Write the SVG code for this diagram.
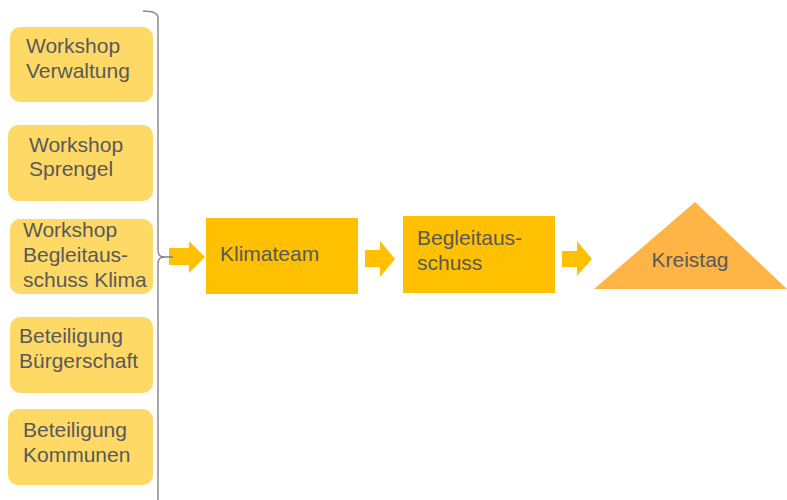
<svg xmlns="http://www.w3.org/2000/svg" width="787" height="500" viewBox="0 0 787 500">
<style>
.src rect{fill:#FFD966;}
text{font-family:"Liberation Sans",Arial,sans-serif;font-size:21px;fill:#595959;}
.arr{fill:#FFC000;}
</style>
<rect width="787" height="500" fill="#fff"/>
<g id="n1" class="src"><rect x="10" y="27" width="143" height="75" rx="10"/><text x="26" y="53">Workshop</text><text x="26" y="78">Verwaltung</text></g>
<g id="n2" class="src"><rect x="8" y="125" width="145" height="76" rx="10"/><text x="29" y="152">Workshop</text><text x="29" y="176">Sprengel</text></g>
<g id="n3" class="src"><rect x="10" y="219" width="143" height="75" rx="10"/><text x="23" y="237">Workshop</text><text x="23" y="262">Begleitaus-</text><text x="23" y="287">schuss Klima</text></g>
<g id="n4" class="src"><rect x="10" y="317" width="143" height="76" rx="10"/><text x="19" y="343">Beteiligung</text><text x="19" y="368">Bürgerschaft</text></g>
<g id="n5" class="src"><rect x="8" y="409" width="145" height="76" rx="10"/><text x="23" y="437">Beteiligung</text><text x="23" y="462">Kommunen</text></g>
<g id="klimateam"><rect x="206" y="218" width="152" height="76" fill="#FFC000"/><text x="220" y="261">Klimateam</text></g>
<g id="begleitausschuss"><rect x="403" y="216" width="152" height="77" fill="#FFC000"/><text x="417" y="245">Begleitaus-</text><text x="417" y="270">schuss</text></g>
<g id="kreistag"><polygon points="594,289 695,202 787,289" fill="#FFB445"/><text x="690" y="267" text-anchor="middle">Kreistag</text></g>
<g id="connectors">
<path d="M143,11 Q158,11 158,18 V250 Q158,257 164,257 Q158,257 158,264 V500" fill="none" stroke="#8c8c8c" stroke-width="1.5"/>
<polygon class="arr" points="169,248 189,248 189,241 205,257 189,273 189,265 169,265"/>
<line x1="162" y1="257" x2="173" y2="257" stroke="#7f7f7f" stroke-width="1.5"/>
<polygon class="arr" points="365,250 380,250 380,241 395,259 380,277 380,267 365,267"/>
<polygon class="arr" points="562,251 577,251 577,241 592,259 577,276 577,267 562,267"/>
</g>
</svg>
